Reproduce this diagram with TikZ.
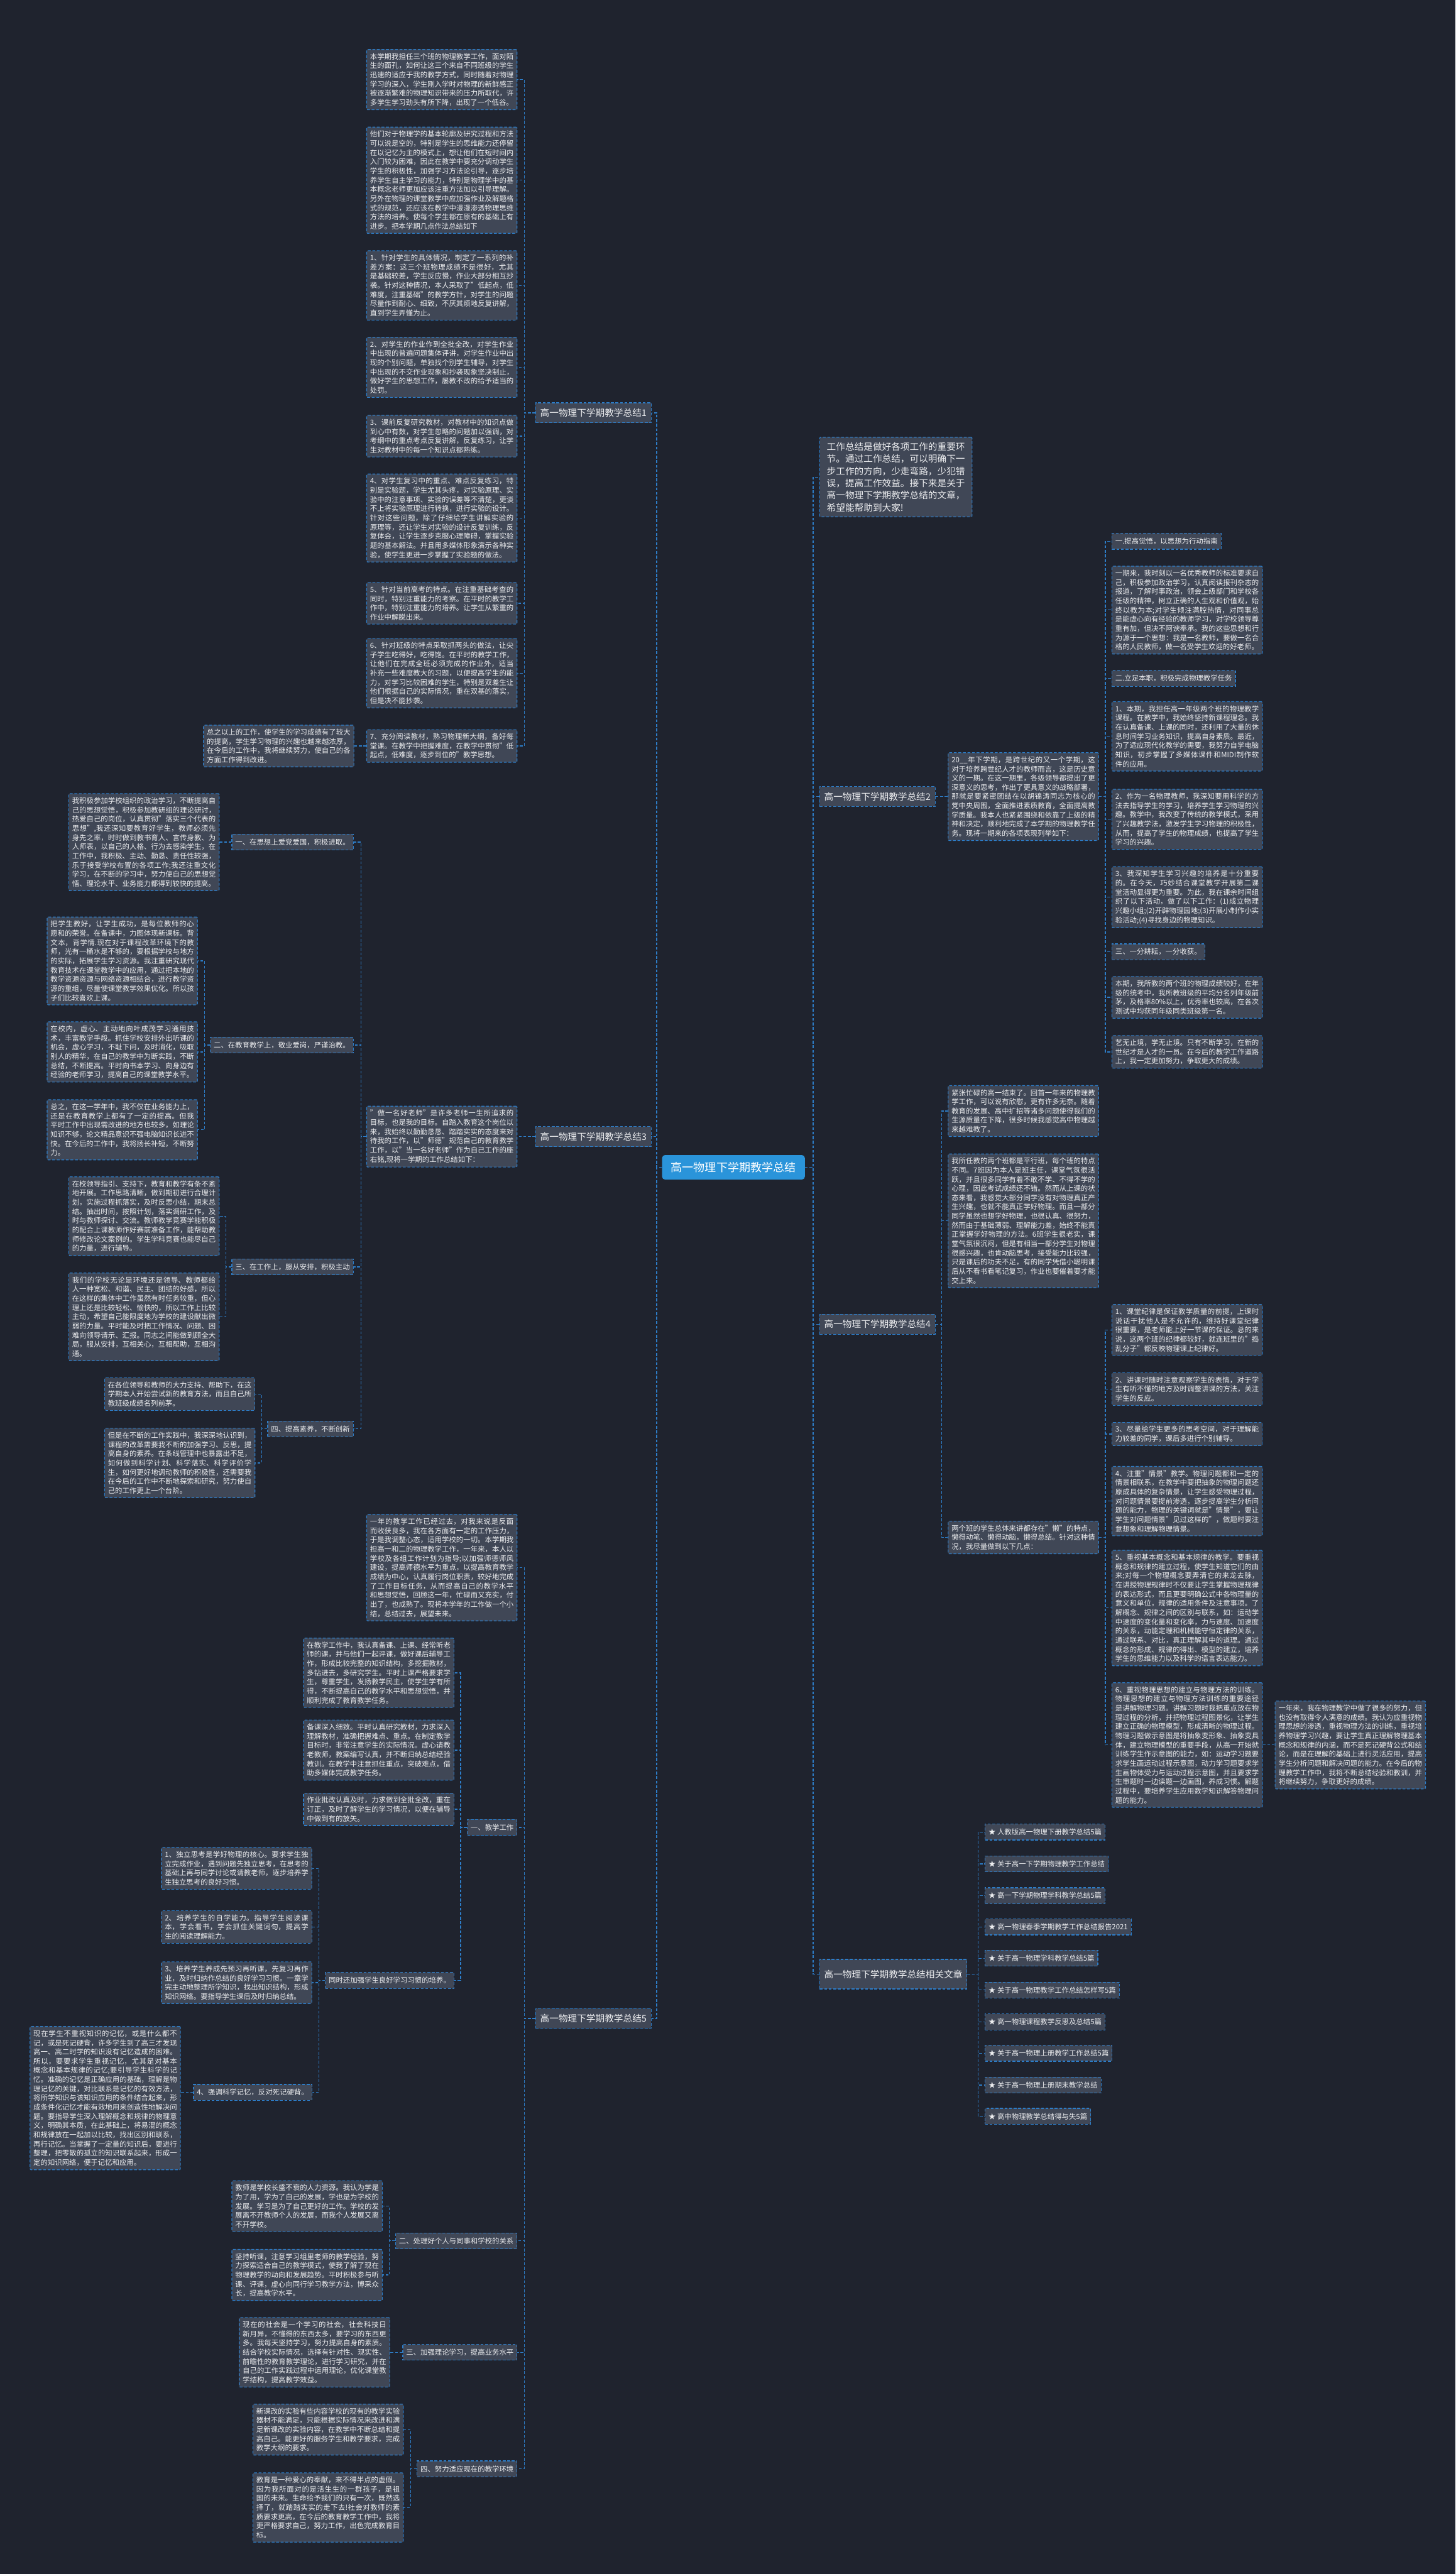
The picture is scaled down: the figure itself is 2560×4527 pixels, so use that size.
\documentclass[tikz,border=0pt]{standalone}
\usepackage{fontspec}
\setmainfont{Noto Sans CJK SC}
\XeTeXlinebreaklocale "zh"
\XeTeXlinebreakskip=0pt plus 1pt
\setlength\parindent{0pt}
\definecolor{bgc}{HTML}{1F232E}
\definecolor{boxc}{HTML}{404756}
\definecolor{bordc}{HTML}{2D7DC8}
\definecolor{txtc}{HTML}{ECEDEF}
\definecolor{hubc}{HTML}{2A94DA}
\newcommand\myconn[3]{\draw[conn] (#1) -- (#1 -| #2) |- (#3);}
\tikzset{
  conn/.style={draw=bordc, line width=1.4pt, dash pattern=on 5pt off 3pt},
  box/.style={draw=bordc, fill=boxc, text=txtc, line width=1.3pt, dash pattern=on 5pt off 3pt,
    rounded corners=1.5pt, inner xsep=6pt, inner ysep=6.5pt, text width=252.5pt, align=justify,
    font=\fontsize{12.6pt}{16.2pt}\selectfont},
  introbox/.style={box, text width=243pt, inner xsep=12.5pt, inner ysep=9pt,
    font=\fontsize{16.2pt}{21.4pt}\selectfont},
  lab/.style={draw=bordc, fill=boxc, text=txtc, line width=1.3pt, dash pattern=on 5pt off 3pt,
    inner xsep=6pt, inner ysep=0pt, minimum height=28pt, font=\fontsize{12.6pt}{15pt}\selectfont},
  mainlab/.style={lab, inner xsep=8pt, minimum height=35pt, font=\fontsize{16.2pt}{20pt}\selectfont},
  hub/.style={fill=hubc, text=white, rounded corners=5pt, minimum width=251pt, minimum height=43pt,
    font=\fontsize{20pt}{24pt}\selectfont}
}
\begin{document}
\begin{tikzpicture}[x=1pt,y=-1pt]
\fill[bgc] (0,0) rectangle (2560,4527);
\useasboundingbox (0,0) rectangle (2560,4527);
% vertical guide coordinates
\coordinate (vL) at (1155,0);
\coordinate (vR) at (1430,0);
\coordinate (v1) at (922,0);
\coordinate (v3) at (635,0);
\coordinate (v3b) at (360,0);
\coordinate (v3c) at (397,0);
\coordinate (v3d) at (460,0);
\coordinate (v5a) at (810,0);
\coordinate (v5b) at (561,0);
\coordinate (v5c) at (685,0);
\coordinate (v5d) at (722,0);
\coordinate (v2) at (1944,0);
\coordinate (v4) at (1656,0);
\coordinate (v6) at (1720,0);
\coordinate (v7) at (632,0);

\node[hub] (hub) at (1290,2053) {高一物理下学期教学总结};

% ---------------- main labels
\node[mainlab, anchor=east] (t1) at (1146,726) {高一物理下学期教学总结1};
\node[mainlab, anchor=east] (t3) at (1146,1999) {高一物理下学期教学总结3};
\node[mainlab, anchor=east] (t5) at (1146,3550) {高一物理下学期教学总结5};
\node[introbox, anchor=west] (intro) at (1441,839) {工作总结是做好各项工作的重要环节。通过工作总结，可以明确下一步工作的方向，少走弯路，少犯错误，提高工作效益。接下来是关于高一物理下学期教学总结的文章，希望能帮助到大家!};
\node[mainlab, anchor=west] (t2) at (1441,1401) {高一物理下学期教学总结2};
\node[mainlab, anchor=west] (t4) at (1441,2329) {高一物理下学期教学总结4};
\node[mainlab, anchor=west, minimum height=52pt] (t6) at (1441,3472) {高一物理下学期教学总结相关文章};

\myconn{hub.west}{vL}{t1.east}
\myconn{hub.west}{vL}{t3.east}
\myconn{hub.west}{vL}{t5.east}
\myconn{hub.east}{vR}{intro.west}
\myconn{hub.east}{vR}{t2.west}
\myconn{hub.east}{vR}{t4.west}
\myconn{hub.east}{vR}{t6.west}

% ---------------- 总结1
\node[box, anchor=east] (a1) at (910,140) {本学期我担任三个班的物理教学工作，面对陌生的面孔，如何让这三个来自不同班级的学生迅速的适应于我的教学方式，同时随着对物理学习的深入，学生刚入学时对物理的新鲜感正被逐渐繁难的物理知识带来的压力所取代，许多学生学习劲头有所下降，出现了一个低谷。};
\node[box, anchor=east] (a2) at (910,317) {他们对于物理学的基本轮廓及研究过程和方法可以说是空的，特别是学生的思维能力还停留在以记忆为主的模式上，想让他们在短时间内入门较为困难，因此在教学中要充分调动学生学生的积极性，加强学习方法论引导，逐步培养学生自主学习的能力，特别是物理学中的基本概念老师更加应该注重方法加以引导理解。另外在物理的课堂教学中应加强作业及解题格式的规范，还应该在教学中漫漫渗透物理思维方法的培养。使每个学生都在原有的基础上有进步。把本学期几点作法总结如下};
\node[box, anchor=east] (a3) at (910,502) {1、针对学生的具体情况，制定了一系列的补差方案：这三个班物理成绩不是很好，尤其是基础较差，学生反应慢，作业大部分相互抄袭。针对这种情况，本人采取了"低起点，低难度，注重基础"的教学方针，对学生的问题尽量作到耐心、细致，不厌其烦地反复讲解，直到学生弄懂为止。};
\node[box, anchor=east] (a4) at (910,646) {2、对学生的作业作到全批全改，对学生作业中出现的普遍问题集体评讲，对学生作业中出现的个别问题，单独找个别学生辅导，对学生中出现的不交作业现象和抄袭现象坚决制止，做好学生的思想工作，屡教不改的给予适当的处罚。};
\node[box, anchor=east] (a5) at (910,767) {3、课前反复研究教材，对教材中的知识点做到心中有数，对学生忽略的问题加以强调，对考纲中的重点考点反复讲解，反复练习，让学生对教材中的每一个知识点都熟练。};
\node[box, anchor=east] (a6) at (910,911) {4、对学生复习中的重点、难点反复练习，特别是实验题，学生尤其头疼，对实验原理、实验中的注意事项、实验的误差等不清楚，更谈不上将实验原理进行转换，进行实验的设计。针对这些问题，除了仔细给学生讲解实验的原理等，还让学生对实验的设计反复训练，反复体会，让学生逐步克服心理障碍，掌握实验题的基本解法。并且用多媒体形象演示各种实验，使学生更进一步掌握了实验题的做法。};
\node[box, anchor=east] (a7) at (910,1061) {5、针对当前高考的特点。在注重基础考查的同时，特别注重能力的考察。在平时的教学工作中，特别注重能力的培养。让学生从繁重的作业中解脱出来。};
\node[box, anchor=east] (a8) at (910,1184) {6、针对班级的特点采取抓两头的做法，让尖子学生吃得好，吃得饱。在平时的教学工作，让他们在完成全班必须完成的作业外，适当补充一些难度教大的习题，以便提高学生的能力，对学习比较困难的学生，特别是双差生让他们根据自己的实际情况，重在双基的落实，但是决不能抄袭。};
\node[box, anchor=east] (a9) at (910,1312) {7、充分阅读教材，熟习物理新大纲，备好每堂课。在教学中把握难度，在教学中贯彻"低起点，低难度，逐步到位的"教学思想。};
\node[box, anchor=east] (s1) at (623,1312) {总之以上的工作，使学生的学习成绩有了较大的提高，学生学习物理的兴趣也越来越浓厚，在今后的工作中，我将继续努力，使自己的各方面工作得到改进。};

\foreach \c in {a1,a2,a3,a4,a5,a6,a7,a8,a9}{\myconn{t1.west}{v1}{\c.east}}
\draw[conn] (a9.west) -- (s1.east);

% ---------------- 总结3
\node[box, anchor=east] (b0) at (910,1999) {"做一名好老师"是许多老师一生所追求的目标，也是我的目标。自踏入教育这个岗位以来，我始终以勤勤恳恳、踏踏实实的态度来对待我的工作，以"师德"规范自己的教育教学工作，以"当一名好老师"作为自己工作的座右铭,现将一学期的工作总结如下：};
\draw[conn] (t3.west) -- (b0.east);
\node[lab, anchor=east] (bl1) at (622,1481) {一、在思想上爱党爱国，积极进取。};
\node[lab, anchor=east] (bl2) at (622,1838) {二、在教育教学上，敬业爱岗，严谨治教。};
\node[lab, anchor=east] (bl3) at (622,2228) {三、在工作上，服从安排，积极主动};
\node[lab, anchor=east] (bl4) at (622,2513) {四、提高素养，不断创新};
\foreach \c in {bl1,bl2,bl3,bl4}{\myconn{b0.west}{v3}{\c.east}}

\node[box, anchor=east] (bx1) at (386,1481) {我积极参加学校组织的政治学习，不断提高自己的思想觉悟，积极参加教研组的理论研讨，热爱自己的岗位，认真贯彻"落实三个代表的思想",我还深知要教育好学生，教师必须先身先之率，时时做到教书育人、言传身教、为人师表，以自己的人格、行为去感染学生，在工作中，我积极、主动、勤恳、责任性较强，乐于接受学校布置的各项工作;我还注重文化学习，在不断的学习中，努力使自己的思想觉悟、理论水平、业务能力都得到较快的提高。};
\draw[conn] (bl1.west) -- (bx1.east);
\node[box, anchor=east] (bx2) at (348,1690) {把学生教好，让学生成功，是每位教师的心愿和的荣誉。在备课中，力图体现新课标。背文本，背学情.现在对于课程改革环境下的教师，光有一桶水是不够的，要根据学校与地方的实际，拓展学生学习资源。我注重研究现代教育技术在课堂教学中的应用，通过把本地的教学资源资源与网络资源相结合，进行教学资源的重组，尽量使课堂教学效果优化。所以孩子们比较喜欢上课。};
\node[box, anchor=east] (bx3) at (348,1850) {在校内，虚心、主动地向叶成茂学习通用技术，丰富教学手段。抓住学校安排外出听课的机会，虚心学习，不耻下问，及时消化，吸取别人的精华，在自己的教学中为断实践，不断总结，不断提高。平时向书本学习、向身边有经验的老师学习，提高自己的课堂教学水平。};
\node[box, anchor=east] (bx4) at (348,1987) {总之，在这一学年中，我不仅在业务能力上，还是在教育教学上都有了一定的提高。但我平时工作中出现需改进的地方也较多，如理论知识不够，论文精品意识不强电脑知识长进不快。在今后的工作中，我将扬长补短，不断努力。};
\foreach \c in {bx2,bx3,bx4}{\myconn{bl2.west}{v3b}{\c.east}}
\node[box, anchor=east] (bx5) at (386,2139) {在校领导指引、支持下，教育和教学有条不紊地开展。工作思路清晰，做到期初进行合理计划，实施过程抓落实，及时反思小结，期末总结。抽出时间，按照计划，落实调研工作，及时与教师探讨、交流。教师教学竞赛学能积极的配合上课教师作好赛前准备工作，能帮助教师修改论文案例的。学生学科竞赛也能尽自己的力量，进行辅导。};
\node[box, anchor=east] (bx6) at (386,2316) {我们的学校无论是环境还是领导、教师都给人一种宽松、和谐、民主、团结的好感，所以在这样的集体中工作虽然有时任务较重，但心理上还是比较轻松、愉快的，所以工作上比较主动，希望自己能限度地为学校的建设献出微弱的力量。平时能及时把工作情况、问题、困难向领导请示、汇报。同志之间能做到顾全大局，服从安排，互相关心，互相帮助，互相沟通。};
\foreach \c in {bx5,bx6}{\myconn{bl3.west}{v3c}{\c.east}}
\node[box, anchor=east] (bx7) at (449,2452) {在各位领导和教师的大力支持、帮助下，在这学期本人开始尝试新的教育方法，而且自己所教班级成绩名列前茅。};
\node[box, anchor=east] (bx8) at (449,2573) {但是在不断的工作实践中，我深深地认识到，课程的改革需要我不断的加强学习、反思，提高自身的素养。在条线管理中也暴露出不足，如何做到科学计划、科学落实、科学评价学生，如何更好地调动教师的积极性，还需要我在今后的工作中不断地探索和研究，努力使自己的工作更上一个台阶。};
\foreach \c in {bx7,bx8}{\myconn{bl4.west}{v3d}{\c.east}}

% ---------------- 总结5
\node[box, anchor=east] (c0) at (910,2757) {一年的教学工作已经过去，对我来说是反面而收获良多，我在各方面有一定的工作压力，于是我调整心态，适用学校的一切。本学期我担高一和二的物理教学工作，一年来，本人以学校及各组工作计划为指导;以加强师德师风建设，提高师德水平为重点，以提高教育教学成绩为中心，认真履行岗位职责，较好地完成了工作目标任务，从而提高自己的教学水平和思想觉悟，回顾这一年，忙碌而又充实，付出了，也成熟了。现将本学年的工作做一个小结，总结过去，展望未来。};
\node[lab, anchor=east] (cl1) at (910,3214) {一、教学工作};
\node[lab, anchor=east] (cl2) at (910,3941) {二、处理好个人与同事和学校的关系};
\node[lab, anchor=east] (cl3) at (910,4137) {三、加强理论学习，提高业务水平};
\node[lab, anchor=east] (cl4) at (910,4342) {四、努力适应现在的教学环境};
\foreach \c in {c0,cl1,cl2,cl3,cl4}{\myconn{t5.west}{v1}{\c.east}}

\node[box, anchor=east] (cx1) at (799,2942) {在教学工作中，我认真备课、上课、经常听老师的课，并与他们一起评课，做好课后辅导工作，形成比较完整的知识结构，多挖掘教材，多钻进去，多研究学生。平时上课严格要求学生，尊重学生，发扬教学民主，使学生学有所得，不断提高自己的教学水平和思想觉悟，并顺利完成了教育教学任务。};
\node[box, anchor=east] (cx2) at (799,3078) {备课深入细致。平时认真研究教材，力求深入理解教材，准确把握难点、重点。在制定教学目标时，非常注意学生的实际情况。虚心请教老教师，教案编写认真，并不断归纳总结经验教训。在教学中注意抓住重点，突破难点，借助多媒体完成教学任务。};
\node[box, anchor=east] (cx3) at (799,3182) {作业批改认真及时，力求做到全批全改，重在订正，及时了解学生的学习情况，以便在辅导中做到有的放矢。};
\node[lab, anchor=east] (cl5) at (799,3483) {同时还加强学生良好学习习惯的培养。};
\foreach \c in {cx1,cx2,cx3,cl5}{\myconn{cl1.west}{v5a}{\c.east}}

\node[box, anchor=east] (cx4) at (549,3286) {1、独立思考是学好物理的核心。要求学生独立完成作业，遇到问题先独立思考，在思考的基础上再与同学讨论或请教老师，逐步培养学生独立思考的良好习惯。};
\node[box, anchor=east] (cx5) at (549,3389) {2、培养学生的自学能力。指导学生阅读课本，学会看书，学会抓住关键词句，提高学生的阅读理解能力。};
\node[box, anchor=east] (cx6) at (549,3487) {3、培养学生养成先预习再听课，先复习再作业，及时归纳作总结的良好学习习惯。一章学完主动地整理所学知识，找出知识结构，形成知识网络。要指导学生课后及时归纳总结。};
\node[lab, anchor=east] (cl6) at (549,3680) {4、强调科学记忆，反对死记硬背。};
\foreach \c in {cx4,cx5,cx6,cl6}{\myconn{cl5.west}{v5b}{\c.east}}
\node[box, anchor=east] (cx7) at (318,3690) {现在学生不重视知识的记忆，或是什么都不记，或是死记硬背，许多学生到了高三才发现高一、高二时学的知识没有记忆造成的困难。所以，要要求学生重视记忆，尤其是对基本概念和基本规律的记忆;要引导学生科学的记忆。准确的记忆是正确应用的基础，理解是物理记忆的关键，对比联系是记忆的有效方法，将所学知识与该知识应用的条件结合起来，形成条件化记忆才能有效地用来创造性地解决问题。要指导学生深入理解概念和规律的物理意义，明确其本质，在此基础上，将易混的概念和规律放在一起加以比较，找出区别和联系，再行记忆。当掌握了一定量的知识后，要进行整理，把零散的孤立的知识联系起来，形成一定的知识网络，便于记忆和应用。};
\draw[conn] (cl6.west) -- (cl6.west -| cx7.east);

\node[box, anchor=east] (cx8) at (673,3880) {教师是学校长盛不衰的人力资源。我认为学是为了用，学为了自己的发展，学也是为学校的发展。学习是为了自己更好的工作。学校的发展离不开教师个人的发展，而我个人发展又离不开学校。};
\node[box, anchor=east] (cx9) at (673,4001) {坚持听课，注意学习组里老师的教学经验，努力探索适合自己的教学模式，使我了解了现在物理教学的动向和发展趋势。平时积极参与听课、评课，虚心向同行学习教学方法，博采众长，提高教学水平。};
\foreach \c in {cx8,cx9}{\myconn{cl2.west}{v5c}{\c.east}}
\node[box, anchor=east] (cx10) at (686,4137) {现在的社会是一个学习的社会，社会科技日新月异，不懂得的东西太多，要学习的东西更多。我每天坚持学习，努力提高自身的素质。结合学校实际情况，选择有针对性、现实性、前瞻性的教育教学理论，进行学习研究，并在自己的工作实践过程中运用理论，优化课堂教学结构，提高教学效益。};
\draw[conn] (cl3.west) -- (cx10.east);
\node[box, anchor=east] (cx11) at (710,4273) {新课改的实验有些内容学校的现有的教学实验器材不能满足，只能根据实际情况来改进和满足新课改的实验内容，在教学中不断总结和提高自己。能更好的服务学生和教学要求，完成教学大纲的要求。};
\node[box, anchor=east] (cx12) at (710,4410) {教育是一种爱心的奉献，来不得半点的虚假。因为我所面对的是活生生的一群孩子，是祖国的未来。生命给予我们的只有一次，既然选择了，就踏踏实实的走下去!社会对教师的素质要求更高，在今后的教育教学工作中，我将更严格要求自己，努力工作，出色完成教育目标。};
\foreach \c in {cx11,cx12}{\myconn{cl4.west}{v5d}{\c.east}}

% ---------------- 总结2
\node[box, anchor=west] (d0) at (1667,1401) {20\_\_年下学期，是跨世纪的又一个学期，这对于培养跨世纪人才的教师而言，这是历史意义的一期。在这一期里，各级领导都提出了更深意义的思考，作出了更具意义的战略部署，那就是要紧密团结在以胡锦涛同志为核心的党中央周围，全面推进素质教育，全面提高教学质量。我本人也紧紧围绕和依靠了上级的精神和决定，顺利地完成了本学期的物理教学任务。现将一期来的各项表现列举如下：};
\draw[conn] (t2.east) -- (d0.west);
\node[lab, anchor=west] (dl1) at (1955,952) {一.提高觉悟，以思想为行动指南};
\node[box, anchor=west] (dx1) at (1955,1073) {一期来，我时刻以一名优秀教师的标准要求自己，积极参加政治学习，认真阅读报刊杂志的报道，了解时事政治，领会上级部门和学校各任级的精神，树立正确的人生观和价值观，始终以教为本;对学生倾注满腔热情，对同事总是能虚心向有经验的教师学习，对学校领导尊重有加，但决不阿谀奉承。我的这些思想和行为源于一个思想：我是一名教师，要做一名合格的人民教师，做一名受学生欢迎的好老师。};
\node[lab, anchor=west] (dl2) at (1955,1193) {二.立足本职，积极完成物理教学任务};
\node[box, anchor=west] (dx2) at (1955,1295) {1、本期，我担任高一年级两个班的物理教学课程。在教学中，我始终坚持新课程理念。我在认真备课、上课的同时，还利用了大量的休息时间学习业务知识，提高自身素质。最近，为了适应现代化教学的需要，我努力自学电脑知识，初步掌握了多媒体课件和MIDI制作软件的应用。};
\node[box, anchor=west] (dx3) at (1955,1441) {2、作为一名物理教师，我深知要用科学的方法去指导学生的学习，培养学生学习物理的兴趣。教学中，我改变了传统的教学模式，采用了兴趣教学法，激发学生学习物理的积极性，从而，提高了学生的物理成绩，也提高了学生学习的兴趣。};
\node[box, anchor=west] (dx4) at (1955,1578) {3、我深知学生学习兴趣的培养是十分重要的。在今天，巧妙结合课堂教学开展第二课堂活动显得更为重要。为此，我在课余时间组织了以下活动，做了以下工作：(1)成立物理兴趣小组;(2)开辟物理园地;(3)开展小制作小实验活动;(4)寻找身边的物理知识。};
\node[lab, anchor=west] (dl3) at (1955,1674) {三、一分耕耘，一分收获。};
\node[box, anchor=west] (dx5) at (1955,1754) {本期，我所教的两个班的物理成绩较好，在年级的统考中，我所教班级的平均分名列年级前茅，及格率80\%以上，优秀率也较高，在各次测试中均获同年级同类班级第一名。};
\node[box, anchor=west] (dx6) at (1955,1850) {艺无止境，学无止境。只有不断学习，在新的世纪才是人才的一员。在今后的教学工作道路上，我一定更加努力，争取更大的成绩。};
\foreach \c in {dl1,dx1,dl2,dx2,dx3,dx4,dl3,dx5,dx6}{\myconn{d0.east}{v2}{\c.west}}

% ---------------- 总结4
\node[box, anchor=west] (e1) at (1667,1954) {紧张忙碌的高一结束了。回首一年来的物理教学工作，可以说有欣慰，更有许多无奈。随着教育的发展、高中扩招等诸多问题使得我们的生源质量在下降，很多时候我感觉高中物理越来越难教了。};
\node[box, anchor=west] (e2) at (1667,2147) {我所任教的两个班都是平行班，每个班的特点不同。7班因为本人是班主任，课堂气氛很活跃，并且很多同学有着不敢不学、不得不学的心理，因此考试成绩还不错。然而从上课的状态来看，我感觉大部分同学没有对物理真正产生兴趣，也就不能真正学好物理。而且一部分同学虽然也想学好物理，也很认真、很努力，然而由于基础薄弱、理解能力差，始终不能真正掌握学好物理的方法。6班学生很老实，课堂气氛很沉闷，但是有相当一部分学生对物理很感兴趣，也肯动脑思考，接受能力比较强，只是课后的功夫不足，有的同学凭借小聪明课后从不看书看笔记复习，作业也要催着要才能交上来。};
\node[box, anchor=west] (e3) at (1667,2704) {两个班的学生总体来讲都存在"懒"的特点，懒得动笔、懒得动脑，懒得总结。针对这种情况，我尽量做到以下几点：};
\foreach \c in {e1,e2,e3}{\myconn{t4.east}{v4}{\c.west}}
\node[box, anchor=west] (ex1) at (1955,2339) {1、课堂纪律是保证教学质量的前提，上课时说话干扰他人是不允许的，维持好课堂纪律很重要，是老师能上好一节课的保证。总的来说，这两个班的纪律都较好，就连班里的"捣乱分子"都反映物理课上纪律好。};
\node[box, anchor=west] (ex2) at (1955,2443) {2、讲课时随时注意观察学生的表情，对于学生有听不懂的地方及时调整讲课的方法，关注学生的反应。};
\node[box, anchor=west] (ex3) at (1955,2522) {3、尽量给学生更多的思考空间，对于理解能力较差的同学，课后多进行个别辅导。};
\node[box, anchor=west] (ex4) at (1955,2640) {4、注重"情景"教学。物理问题都和一定的情景相联系，在教学中要把抽象的物理问题还原成具体的复杂情景，让学生感受物理过程，对问题情景要提前渗透，逐步提高学生分析问题的能力，物理的关键词就是"情景"，要让学生对问题情景"见过这样的"，做题时要注意想象和理解物理情景。};
\node[box, anchor=west] (ex5) at (1955,2828) {5、重视基本概念和基本规律的教学。要重视概念和规律的建立过程，使学生知道它们的由来;对每一个物理概念要弄清它的来龙去脉，在讲授物理规律时不仅要让学生掌握物理规律的表达形式，而且更要明确公式中各物理量的意义和单位，规律的适用条件及注意事项。了解概念、规律之间的区别与联系，如：运动学中速度的变化量和变化率，力与速度、加速度的关系，动能定理和机械能守恒定律的关系，通过联系、对比，真正理解其中的道理。通过概念的形成、规律的得出、模型的建立，培养学生的思维能力以及科学的语言表达能力。};
\node[box, anchor=west] (ex6) at (1955,3069) {6、重视物理思想的建立与物理方法的训练。物理思想的建立与物理方法训练的重要途径是讲解物理习题。讲解习题时我把重点放在物理过程的分析，并把物理过程图景化，让学生建立正确的物理模型，形成清晰的物理过程。物理习题做示意图是将抽象变形象、抽象变具体，建立物理模型的重要手段，从高一开始就训练学生作示意图的能力，如：运动学习题要求学生画运动过程示意图，动力学习题要求学生画物体受力与运动过程示意图，并且要求学生审题时一边读题一边画图，养成习惯。解题过程中，要培养学生应用数学知识解答物理问题的能力。};
\foreach \c in {ex1,ex2,ex3,ex4,ex5,ex6}{\myconn{e3.east}{v2}{\c.west}}
\node[box, anchor=west] (ex7) at (2242,3069) {一年来，我在物理教学中做了很多的努力，但也没有取得令人满意的成绩。我认为应重视物理思想的渗透，重视物理方法的训练，重视培养物理学习兴趣，要让学生真正理解物理基本概念和规律的内涵，而不是死记硬背公式和结论，而是在理解的基础上进行灵活应用，提高学生分析问题和解决问题的能力。在今后的物理教学工作中，我将不断总结经验和教训，并将继续努力，争取更好的成绩。};
\draw[conn] (ex6.east) -- (ex7.west);

% ---------------- 相关文章
\foreach \y/\nm/\t in {3222/r1/人教版高一物理下册教学总结5篇, 3278/r2/关于高一下学期物理教学工作总结, 3334/r3/高一下学期物理学科教学总结5篇, 3389/r4/高一物理春季学期教学工作总结报告2021, 3444/r5/关于高一物理学科教学总结5篇, 3500/r6/关于高一物理教学工作总结怎样写5篇, 3556/r7/高一物理课程教学反思及总结5篇, 3611/r8/关于高一物理上册教学工作总结5篇, 3667/r9/关于高一物理上册期末教学总结, 3722/r10/高中物理教学总结得与失5篇}{
  \node[lab, anchor=west] (\nm) at (1732,\y) {★ \t};
  \myconn{t6.east}{v6}{\nm.west}
}
\end{tikzpicture}
\end{document}
